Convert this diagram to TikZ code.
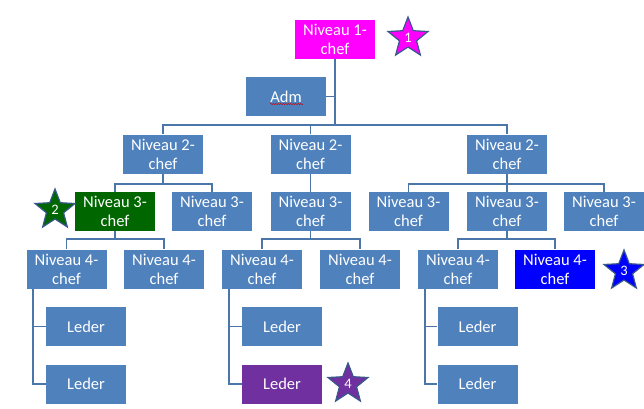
\documentclass[tikz,border=0pt]{standalone}
\usepackage{fontspec}
\setmainfont{Carlito}
\usetikzlibrary{decorations.pathmorphing}
\definecolor{boxblue}{RGB}{79,129,189}
\definecolor{linecol}{RGB}{74,118,170}
\definecolor{lvlmag}{RGB}{255,0,255}
\definecolor{lvlgreen}{RGB}{0,102,0}
\definecolor{lvlblue}{RGB}{0,0,255}
\definecolor{lvlpurple}{RGB}{112,48,160}
\definecolor{starline}{RGB}{56,87,138}
\newcommand\rankstarshape{(90:21pt) -- (126:9pt) -- (162:21pt) -- (198:9pt) -- (234:21pt) -- (270:9pt) -- (306:21pt) -- (342:9pt) -- (18:21pt) -- (54:9pt) -- cycle}
\tikzset{
  orgbox/.style={fill=boxblue, text=white, minimum width=80pt, minimum height=39pt,
    inner sep=0pt, align=center, font=\fontsize{16.5}{19}\selectfont},
  conn/.style={draw=linecol, line width=1.8pt},
  starfill/.style={draw=starline, line width=1.2pt, line join=miter},
  starnum/.style={text=white, inner sep=0pt, font=\fontsize{14.5}{14.5}\selectfont}
}
\begin{document}
\begin{tikzpicture}[x=1pt,y=-1pt]
\useasboundingbox (0,0) rectangle (644,408);
\fill[white] (0,0) rectangle (644,408);
% level 1 and Adm
\node[orgbox, fill=lvlmag] (n1) at (335,39) {Niveau 1-\\chef};
\node[orgbox] (adm) at (286,96.5) {Adm};
% level 2
\node[orgbox] (l2a) at (163,154) {Niveau 2-\\chef};
\node[orgbox] (l2b) at (310.5,154) {Niveau 2-\\chef};
\node[orgbox] (l2c) at (507,154) {Niveau 2-\\chef};
% level 3
\node[orgbox, fill=lvlgreen] (l3a) at (115,211.5) {Niveau 3-\\chef};
\node[orgbox] (l3b) at (212,211.5) {Niveau 3-\\chef};
\node[orgbox] (l3c) at (310.5,211.5) {Niveau 3-\\chef};
\node[orgbox] (l3d) at (408.5,211.5) {Niveau 3-\\chef};
\node[orgbox] (l3e) at (507,211.5) {Niveau 3-\\chef};
\node[orgbox] (l3f) at (604,211.5) {Niveau 3-\\chef};
% level 4
\node[orgbox] (l4a) at (66.5,269) {Niveau 4-\\chef};
\node[orgbox] (l4b) at (164,269) {Niveau 4-\\chef};
\node[orgbox] (l4c) at (262,269) {Niveau 4-\\chef};
\node[orgbox] (l4d) at (360,269) {Niveau 4-\\chef};
\node[orgbox] (l4e) at (458,269) {Niveau 4-\\chef};
\node[orgbox, fill=lvlblue] (l4f) at (555,269) {Niveau 4-\\chef};
% leaders
\node[orgbox] (la1) at (86,326.5) {Leder};
\node[orgbox] (la2) at (86,384) {Leder};
\node[orgbox] (lb1) at (282,326.5) {Leder};
\node[orgbox, fill=lvlpurple] (lb2) at (282,384) {Leder};
\node[orgbox] (lc1) at (477.5,326.5) {Leder};
\node[orgbox] (lc2) at (477.5,384) {Leder};
% spelling squiggle under Adm
\draw[red!80!black, line width=0.5pt, decorate, decoration={snake, amplitude=0.6pt, segment length=2.5pt}] (270,104) -- (303,104);
% connectors level 1 -> 2
\coordinate (b1) at (335,125);
\draw[conn] (n1.south) -- (b1);
\draw[conn] (adm.east) -- (adm.east -| b1);
\draw[conn] (l2a.north) |- (b1) -| (l2c.north);
\draw[conn] (l2b.north) -- (l2b.north |- b1);
% level 2 -> 3
\path (l2a.south) ++(0,10) coordinate (j2a);
\draw[conn] (l2a.south) -- (j2a) -| (l3a.north);
\draw[conn] (j2a) -| (l3b.north);
\draw[conn] (l2b.south) -- (l3c.north);
\path (l2c.south) ++(0,10) coordinate (j2c);
\draw[conn] (l2c.south) -- (l3e.north);
\draw[conn] (l3d.north) |- (j2c) -| (l3f.north);
% level 3 -> 4
\path (l3a.south) ++(0,8) coordinate (j3a);
\draw[conn] (l3a.south) -- (j3a);
\draw[conn] (l4a.north) |- (j3a) -| (l4b.north);
\path (l3c.south) ++(0,8) coordinate (j3c);
\draw[conn] (l3c.south) -- (j3c);
\draw[conn] (l4c.north) |- (j3c) -| (l4d.north);
\path (l3e.south) ++(0,8) coordinate (j3e);
\draw[conn] (l3e.south) -- (j3e);
\draw[conn] (l4e.north) |- (j3e) -| (l4f.north);
% level 4 -> leaders
\draw[conn] ([xshift=6.5pt]l4a.south west) |- (la2.west);
\draw[conn] ([xshift=6.5pt]l4a.south west) |- (la1.west);
\draw[conn] ([xshift=7pt]l4c.south west) |- (lb2.west);
\draw[conn] ([xshift=7pt]l4c.south west) |- (lb1.west);
\draw[conn] ([xshift=7pt]l4e.south west) |- (lc2.west);
\draw[conn] ([xshift=7pt]l4e.south west) |- (lc1.west);
% stars
\draw[starfill, fill=lvlmag, shift={(408,38)}] \rankstarshape;
\node[starnum] (s1) at (408,38) {1};
\draw[starfill, fill=lvlgreen, shift={(55,210)}] \rankstarshape;
\node[starnum] (s2) at (55,210) {2};
\draw[starfill, fill=lvlblue, shift={(624,271)}] \rankstarshape;
\node[starnum] (s3) at (624,271) {3};
\draw[starfill, fill=lvlpurple, shift={(348,384)}] \rankstarshape;
\node[starnum] (s4) at (348,384) {4};
\end{tikzpicture}
\end{document}
